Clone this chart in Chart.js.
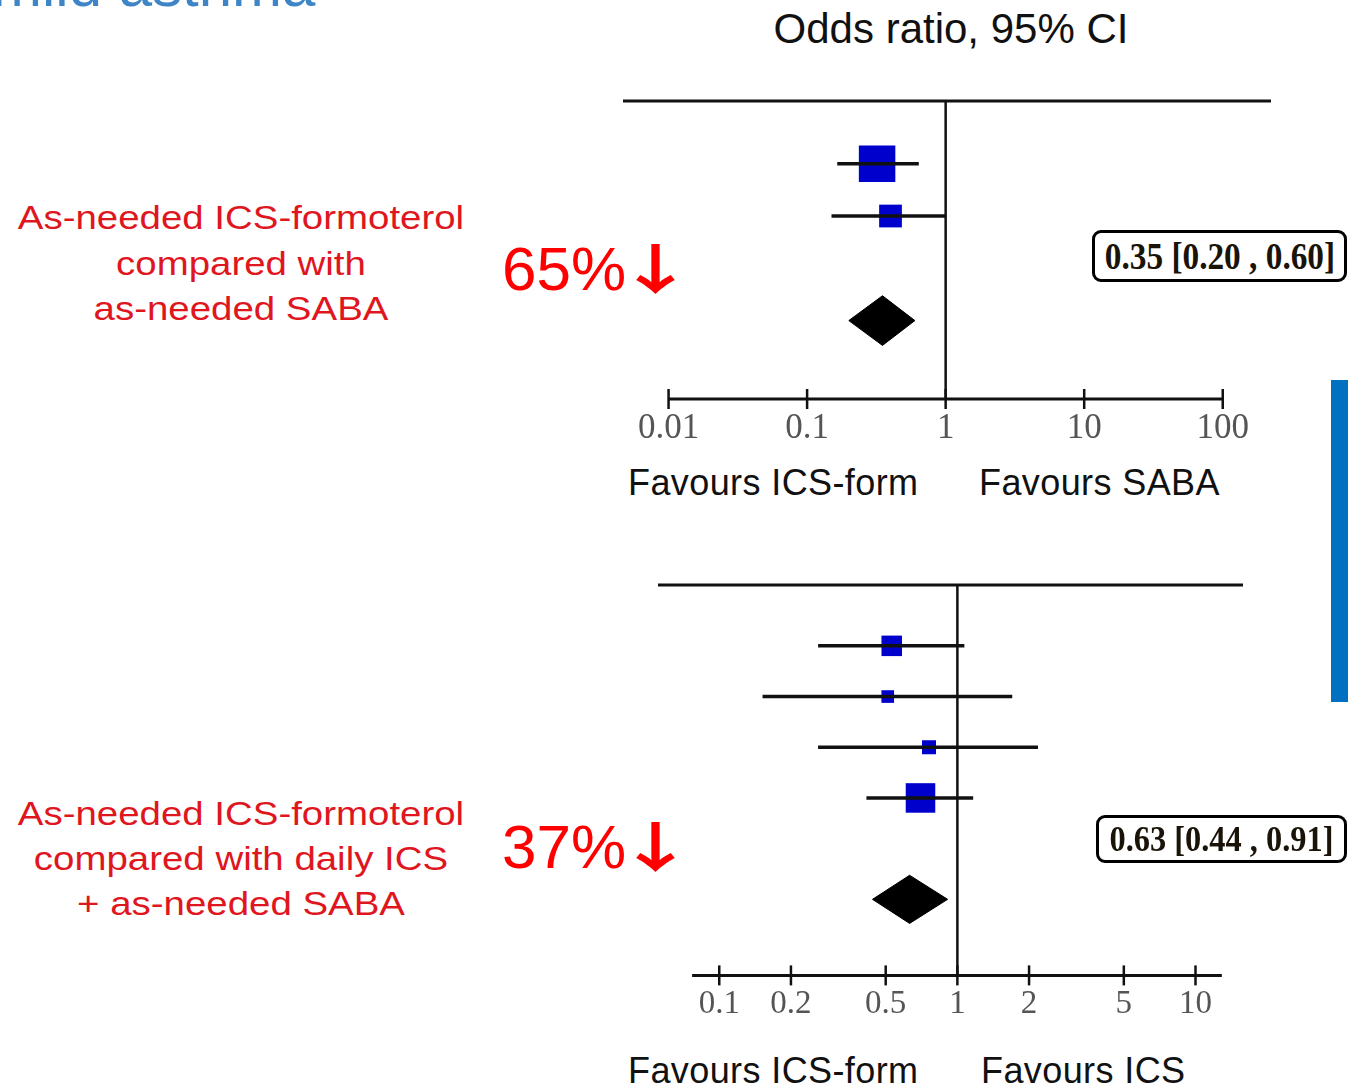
<!DOCTYPE html>
<html>
<head>
<meta charset="utf-8">
<title>Odds ratio, 95% CI</title>
<script src="https://cdn.jsdelivr.net/npm/chart.js@4.4.1/dist/chart.umd.min.js"></script>
<style>
  html, body { margin: 0; padding: 0; background: #fff; }
  body { width: 1348px; height: 1087px; position: relative; overflow: hidden; font-family: "Liberation Sans", Arial, sans-serif; }
  canvas { position: absolute; }
  .t { position: absolute; white-space: nowrap; line-height: 1; }
  .arrow { font-family: "Noto Sans CJK SC", "DejaVu Sans", sans-serif; font-weight: bold;
           display: inline-block; transform: scaleX(1.5); transform-origin: left center; }
  .box { position: absolute; border: 3px solid #000; border-radius: 9px; box-sizing: border-box;
         display: flex; align-items: center; justify-content: center; background: #fff; }
  .box span { font-family: "Liberation Serif", "Times New Roman", serif; font-weight: bold; color: #1a1308;
              display: inline-block; transform: scaleX(0.9); white-space: nowrap; }
</style>
</head>
<body>
<canvas id="chartSaba" width="700" height="379" style="left:600px;top:80px"></canvas>
<canvas id="chartIcs" width="620" height="468" style="left:640px;top:565px"></canvas>

<script>
// ICS-formoterol vs as-needed SABA: study odds ratios with 95% CI
const sabaOR = [0.32, 0.40];
const sabaLow = [0.165, 0.15];
const sabaHigh = [0.64, 1.0];
const sabaWeight = [72, 28];
const sabaPooled = [0.35, 0.20, 0.60]; // estimate, low, high
const sabaTicks = [0.01, 0.1, 1, 10, 100];
const sabaTickLabels = ["0.01", "0.1", "1", "10", "100"];

// ICS-formoterol vs daily ICS + as-needed SABA
const icsOR = [0.53, 0.51, 0.76, 0.70];
const icsLow = [0.26, 0.152, 0.26, 0.415];
const icsHigh = [1.07, 1.70, 2.18, 1.165];
const icsWeight = [25.5, 9.7, 11.9, 52.9];
const icsPooled = [0.63, 0.44, 0.91];
const icsTicks = [0.1, 0.2, 0.5, 1, 2, 5, 10];
const icsTickLabels = ["0.1", "0.2", "0.5", "1", "2", "5", "10"];

Chart.defaults.font.family = '"Liberation Sans", Arial, sans-serif';

const TOP_ROW = -0.2;
const DIAMOND_HALF = 0.475;

function segment(points, width) {
  return {
    data: points,
    showLine: true,
    borderColor: "#111",
    borderWidth: width,
    borderCapStyle: "butt",
    pointRadius: 0,
    clip: false,
  };
}

function forestDatasets(or, low, high, weight, pooled, ticks, axisEnds, xRange, boxScale) {
  const n = or.length;
  const diamondRow = n + 2;
  const axisRow = n + 3.5;
  const ds = [];

  ds.push(segment([{ x: xRange[0], y: TOP_ROW }, { x: xRange[1], y: TOP_ROW }], 3));
  ds.push(segment([{ x: 1, y: TOP_ROW }, { x: 1, y: axisRow }], 2.5));
  ds.push(segment([{ x: axisEnds[0], y: axisRow }, { x: axisEnds[1], y: axisRow }], 3));

  or.forEach((v, i) => {
    ds.push(segment([{ x: low[i], y: i + 1 }, { x: high[i], y: i + 1 }], 3.5));
  });

  // boxes sized by study weight
  ds.push({
    data: or.map((v, i) => ({ x: v, y: i + 1 })),
    pointStyle: "rect",
    pointRadius: weight.map((w) => (boxScale * Math.sqrt(w)) / Math.SQRT2),
    pointBackgroundColor: "#0000cc",
    pointBorderWidth: 0,
    clip: false,
  });

  // tick marks crossing the axis
  ds.push({
    data: ticks.map((t) => ({ x: t, y: axisRow })),
    pointStyle: "line",
    pointRotation: 90,
    pointRadius: 10,
    pointBorderColor: "#111",
    pointBorderWidth: 2.5,
    clip: false,
  });

  // pooled diamond
  ds.push({
    data: [
      { x: pooled[1], y: diamondRow },
      { x: pooled[0], y: diamondRow - DIAMOND_HALF },
      { x: pooled[2], y: diamondRow },
      { x: pooled[0], y: diamondRow + DIAMOND_HALF },
      { x: pooled[1], y: diamondRow },
    ],
    showLine: true,
    fill: "shape",
    backgroundColor: "#000",
    borderColor: "#000",
    borderWidth: 1,
    pointRadius: 0,
    clip: false,
  });
  return ds;
}

function forestChart(id, ds, ticks, labels, xRange, rows, fontSize, tickPad, padding) {
  return new Chart(document.getElementById(id), {
    type: "scatter",
    data: { datasets: ds },
    options: {
      responsive: false,
      animation: false,
      events: [],
      devicePixelRatio: 1,
      layout: { padding: padding, autoPadding: false },
      plugins: { legend: { display: false }, tooltip: { enabled: false } },
      scales: {
        x: {
          type: "logarithmic",
          min: xRange[0],
          max: xRange[1],
          grid: { display: false, drawTicks: false },
          border: { display: false },
          afterBuildTicks: (scale) => {
            scale.ticks = ticks.map((v) => ({ value: v }));
          },
          ticks: {
            autoSkip: false,
            maxRotation: 0,
            padding: tickPad,
            color: "#555",
            font: { family: '"Liberation Serif", "Times New Roman", serif', size: fontSize },
            callback: (v, i) => labels[i],
          },
        },
        y: {
          type: "linear",
          reverse: true,
          display: false,
          min: TOP_ROW,
          max: rows + 3.5,
        },
      },
    },
  });
}

forestChart(
  "chartSaba",
  forestDatasets(sabaOR, sabaLow, sabaHigh, sabaWeight, sabaPooled, sabaTicks, [0.01, 100], [0.00469, 223], 4.3),
  sabaTicks, sabaTickLabels, [0.00469, 223], sabaOR.length, 35, 9,
  { left: 23, right: 29, top: 21, bottom: 0 }
);

forestChart(
  "chartIcs",
  forestDatasets(icsOR, icsLow, icsHigh, icsWeight, icsPooled, icsTicks, [0.0769, 12.9], [0.0553, 15.83], 4.06),
  icsTicks, icsTickLabels, [0.0553, 15.83], icsOR.length, 33, 9,
  { left: 18, right: 17, top: 20, bottom: 0 }
);

// text placed by baseline
function text(str, x, baseline, size, color, align, extra) {
  const d = document.createElement("div");
  d.className = "t";
  d.textContent = str;
  d.style.fontSize = size + "px";
  d.style.color = color;
  d.style.top = baseline - 0.845 * size + "px";
  d.style.left = x + "px";
  if (align === "center") d.style.transform = "translateX(-50%)";
  if (extra) Object.assign(d.style, extra);
  document.body.appendChild(d);
  return d;
}

function percent(str, x, baseline) {
  const d = text(str, x, baseline, 62, "#ff0000");
  const a = document.createElement("span");
  a.className = "arrow";
  a.textContent = "\u2193";
  a.style.fontSize = "54px";
  a.style.marginLeft = "-11px";
  d.appendChild(a);
}

const red = "#e0161e";
const redLabel = { transform: "translateX(-50%) scaleX(1.13)" };

text("mild asthma", -8, 7, 60, "#3d85c6");
text("Odds ratio, 95% CI", 951, 43, 42, "#111", "center");

text("As-needed ICS-formoterol", 241, 229, 34, red, "center", redLabel);
text("compared with", 241, 275, 34, red, "center", redLabel);
text("as-needed SABA", 241, 320, 34, red, "center", redLabel);
percent("65%", 502, 290);

text("As-needed ICS-formoterol", 241, 825, 34, red, "center", redLabel);
text("compared with daily ICS", 241, 870, 34, red, "center", redLabel);
text("+ as-needed SABA", 241, 915, 34, red, "center", redLabel);
percent("37%", 502, 868);

const fav = { letterSpacing: "0.4px" };
text("Favours ICS-form", 628, 495, 36, "#111", null, fav);
text("Favours SABA", 979, 495, 36, "#111", null, fav);
text("Favours ICS-form", 628, 1083, 36, "#111", null, fav);
text("Favours ICS", 981, 1083, 36, "#111", null, fav);

function box(str, left, top, width, height, size) {
  const b = document.createElement("div");
  b.className = "box";
  Object.assign(b.style, { left: left + "px", top: top + "px", width: width + "px", height: height + "px" });
  const s = document.createElement("span");
  s.textContent = str;
  s.style.fontSize = size + "px";
  b.appendChild(s);
  document.body.appendChild(b);
}
box("0.35 [0.20 , 0.60]", 1092, 230, 255, 52, 37);
box("0.63 [0.44 , 0.91]", 1096, 815, 251, 48, 36);

const bar = document.createElement("div");
Object.assign(bar.style, { position: "absolute", left: "1331px", top: "380px", width: "17px", height: "322px", background: "#0070c0" });
document.body.appendChild(bar);
</script>
</body>
</html>
